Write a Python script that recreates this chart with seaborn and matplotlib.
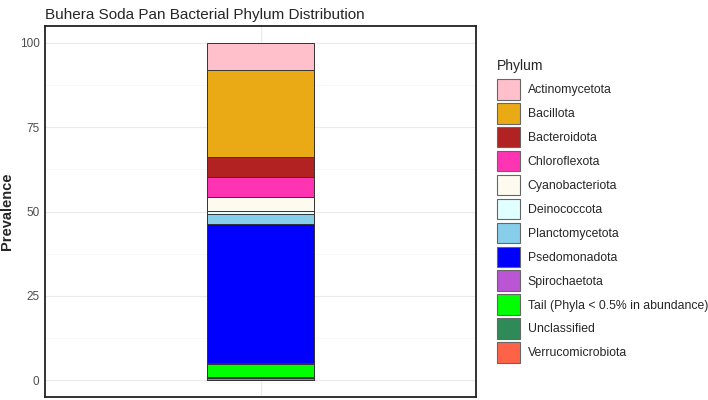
import numpy as np
import pandas as pd
import matplotlib
matplotlib.use("Agg")
import matplotlib.pyplot as plt
from matplotlib.patches import Patch
import seaborn as sns

# Phylum order (top of stack first, as in legend)
phyla = [
    "Actinomycetota", "Bacillota", "Bacteroidota", "Chloroflexota",
    "Cyanobacteriota", "Deinococcota", "Planctomycetota", "Psedomonadota",
    "Spirochaetota", "Tail (Phyla < 0.5% in abundance)", "Unclassified",
    "Verrucomicrobiota",
]
prevalence = [8.0, 25.9, 6.0, 5.9, 4.1, 0.8, 3.0, 41.1, 0.4, 3.8, 0.3, 0.7]
colors = [
    "#FFC0CB", "#E9AA15", "#B22222", "#FF34B3", "#FFFAF0", "#E0FFFF",
    "#87CEEB", "#0000FF", "#BA55D3", "#00FF00", "#2E8B57", "#FF6347",
]
site = ["Buhera Soda Pan"]

sns.set_theme(style="whitegrid")
plt.rcParams["font.family"] = ["Liberation Sans", "DejaVu Sans"]

fig = plt.figure(figsize=(7.08, 4.0), dpi=100)
ax = fig.add_axes([45 / 708, 3 / 400, 431 / 708, 371 / 400])

# stacked bar: draw cumulative totals from the top layer down
df = pd.DataFrame({"phylum": phyla, "value": prevalence, "color": colors})
df["top"] = df["value"][::-1].cumsum()[::-1]
for _, row in df.iterrows():
    sns.barplot(x=site, y=[row["top"]], color=row["color"], width=0.3,
                edgecolor="#333333", linewidth=0.7, saturation=1, ax=ax)

ax.set_xlim(-0.6, 0.6)
ax.set_ylim(-5, 105)
ax.set_yticks([0, 25, 50, 75, 100])
ax.set_yticks([12.5, 37.5, 62.5, 87.5], minor=True)
ax.set_xticklabels([])
ax.set_xlabel("")
ax.set_ylabel("Prevalence", fontsize=10.5, fontweight="bold", labelpad=4)
ax.tick_params(axis="y", labelsize=8.5, labelcolor="#4d4d4d", length=0, pad=4)
ax.tick_params(axis="x", length=0)
ax.grid(True, which="major", color="#ebebeb", linewidth=0.8)
ax.grid(True, which="minor", axis="y", color="#f4f4f4", linewidth=0.5)
ax.set_axisbelow(True)
for s in ax.spines.values():
    s.set_visible(True)
    s.set_color("#222222")
    s.set_linewidth(1.3)
ax.set_title("Buhera Soda Pan Bacterial Phylum Distribution", loc="left",
             fontsize=11, x=0.0, y=1.0, pad=5)

# legend: title as separate text, keys below
fig.text(497 / 708, 1 - 66 / 400, "Phylum", fontsize=10, va="center", ha="left")
handles = [Patch(facecolor=c, edgecolor="#666666", linewidth=0.8) for c in colors]
leg = fig.legend(handles, phyla, loc="upper left",
                 bbox_to_anchor=(497 / 708, 1 - 79 / 400), frameon=False,
                 fontsize=8.8, handlelength=1.9, handleheight=2.22,
                 labelspacing=0.27, handletextpad=0.6, borderpad=0,
                 borderaxespad=0)

fig.savefig("out.png", dpi=100)
